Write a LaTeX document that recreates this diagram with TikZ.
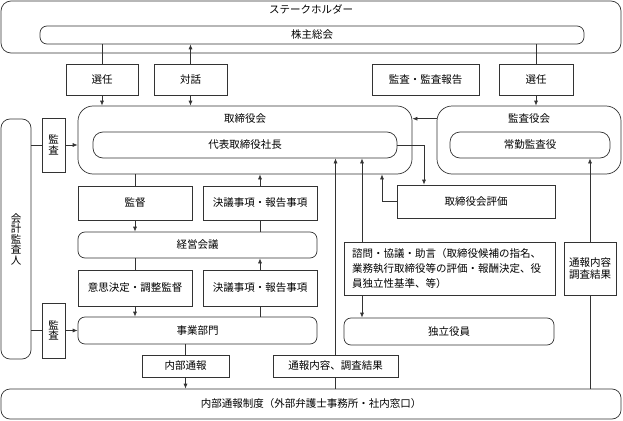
\documentclass[tikz,border=0pt]{standalone}
\usepackage{fontspec}
\setmainfont{Noto Sans CJK JP}
\usetikzlibrary{arrows.meta}
\tikzset{
  box/.style={draw=black!80, line width=0.7pt, rectangle, inner sep=0pt, align=center, fill=white},
  rbox/.style={box, rounded corners=7pt},
  bigbox/.style={box, rounded corners=15pt},
  sz/.style 2 args={minimum width=#1pt, minimum height=#2pt},
  ttl/.style={anchor=north, inner sep=0pt, yshift=-#1pt},
  con/.style={draw=black!80, line width=0.7pt},
  tate/.style={text width=12pt, align=center, font=\fontsize{10.5pt}{10.5pt}\selectfont,
    execute at begin node={\setlength{\lineskiplimit}{-20pt}}},
}
\begin{document}
\begin{tikzpicture}[x=1pt, y=-1pt, font=\fontsize{10.5pt}{12.5pt}\selectfont, >={Latex[length=5pt,width=4pt]}]
    \useasboundingbox (0,0) rectangle (623,420);

    %Aktoerer oeverst
        \node[rbox, rounded corners=10pt, sz={620}{52}, label={[ttl=4]north:ステークホルダー}] (stake) at (311,27) {};
        \node[rbox, sz={544}{18}] (kabu) at (312,35) {株主総会};
        %
        \node[box, sz={72}{31}] (senninL) at (102,79.5) {選任};
        \node[box, sz={73}{31}] (taiwa) at (190.5,79.5) {対話};
        \node[box, sz={107}{31}] (kansaHoukoku) at (425.5,79.5) {監査・監査報告};
        \node[box, sz={74}{31}] (senninR) at (536,79.5) {選任};

    %Raad
        \node[bigbox, sz={334}{68}, label={[ttl=8, name=torishimariT]north:取締役会}] (torishimari) at (245,140) {};
        \node[rbox, rounded corners=10pt, sz={304}{26}] (daihyo) at (245,145) {代表取締役社長};
        \node[bigbox, sz={184}{68}, label={[ttl=8, name=kansayakuT]north:監査役会}] (kansayaku) at (529,140) {};
        \node[rbox, rounded corners=10pt, sz={160}{26}] (joukin) at (530,145) {常勤監査役};

    %Revisor
        \node[rbox, rounded corners=9pt, sz={30}{240}, tate] (kaikei) at (16,239) {会\\計\\監\\査\\人};
        \node[box, sz={23}{54}, tate] (kansaU) at (53.5,145) {監\\査};
        \node[box, sz={23}{55}, tate] (kansaL) at (53.5,330.5) {監\\査};

    %Venstre kolonne
        \node[box, sz={114}{34}] (kantoku) at (135,203) {監督};
        \node[box, sz={114}{34}] (ketsugiU) at (260,203) {決議事項・報告事項};
        \node[rbox, sz={239}{26}] (keiei) at (197.5,245) {経営会議};
        \node[box, sz={114}{36}] (ishi) at (135,288) {意思決定・調整監督};
        \node[box, sz={114}{36}] (ketsugiL) at (260,288) {決議事項・報告事項};
        \node[rbox, sz={239}{27}] (jigyou) at (197.5,330.5) {事業部門};

    %Hoejre kolonne
        \node[box, sz={158}{33}] (hyouka) at (476,201.5) {取締役会評価};
        \node[box, sz={211}{53}, align=left, text width=195pt, font=\fontsize{10.5pt}{15pt}\selectfont] (shimon) at (449.5,268.5)
            {諮問・協議・助言（取締役候補の指名、\\業務執行取締役等の評価・報酬決定、役\\員独立性基準、等）};
        \node[box, sz={52}{53}] (tsuhouR) at (590,268.5) {通報内容\\調査結果};
        \node[rbox, sz={210}{27}] (dokuritsu) at (449,331.5) {独立役員};

    %Nederst
        \node[box, sz={87}{22}] (naibu) at (185.5,366) {内部通報};
        \node[box, sz={125}{22}] (tsuhouB) at (335.5,366) {通報内容、調査結果};
        \node[rbox, rounded corners=9pt, sz={620}{30}] (seido) at (311,404) {内部通報制度（外部弁護士事務所・社内窓口）};

        \coordinate (sx) at (362,0);
        \coordinate (hx) at (424,0);
        \coordinate (ex) at (382,0);

    %Pile
        \draw[con] (kabu.south -| senninL) -- (senninL.north);
        \draw[con,->] (senninL.south) -- (torishimari.north -| senninL);
        \draw[con,->] (taiwa.north) -- (kabu.south -| taiwa);
        \draw[con,->] (taiwa.south) -- (torishimari.north -| taiwa);
        \draw[con] (kabu.south -| senninR) -- (senninR.north);
        \draw[con,->] (senninR.south) -- (kansayaku.north -| senninR);
        \draw[con,->] (kansayaku.west |- kansayakuT) -- (torishimari.east |- kansayakuT);
        %
        \draw[con] (kaikei.east |- kansaU) -- (kansaU.west);
        \draw[con,->] (kansaU.east) -- (torishimari.west |- kansaU);
        \draw[con] (kaikei.east |- kansaL) -- (kansaL.west);
        \draw[con,->] (kansaL.east) -- (jigyou.west |- kansaL);
        %
        \draw[con] (torishimari.south -| kantoku) -- (kantoku.north);
        \draw[con,->] (kantoku.south) -- (keiei.north -| kantoku);
        \draw[con,->] (ketsugiU.north) -- (torishimari.south -| ketsugiU);
        \draw[con] (ketsugiU.south) -- (keiei.north -| ketsugiU);
        \draw[con] (keiei.south -| ishi) -- (ishi.north);
        \draw[con,->] (ishi.south) -- (jigyou.north -| ishi);
        \draw[con,->] (ketsugiL.north) -- (keiei.south -| ketsugiL);
        \draw[con] (ketsugiL.south) -- (jigyou.north -| ketsugiL);
        %
        \draw[con] (jigyou.south -| naibu) -- (naibu.north);
        \draw[con,->] (naibu.south) -- (seido.north -| naibu);
        \draw[con] (seido.north -| tsuhouB) -- (tsuhouB.south);
        \draw[con,->] (tsuhouB.north) -- (daihyo.south -| tsuhouB);
        \draw[con,->] (shimon.north -| sx) -- (daihyo.south -| sx);
        \draw[con,->] (shimon.south -| sx) -- (dokuritsu.north -| sx);
        \draw[con,->] (daihyo.east) -| (hyouka.north -| hx);
        \draw[con,->] (hyouka.west) -| (torishimari.south -| ex);
        \draw[con] (seido.north -| tsuhouR) -- (tsuhouR.south);
        \draw[con,->] (tsuhouR.north) -- (joukin.south -| tsuhouR);
\end{tikzpicture}
\end{document}
